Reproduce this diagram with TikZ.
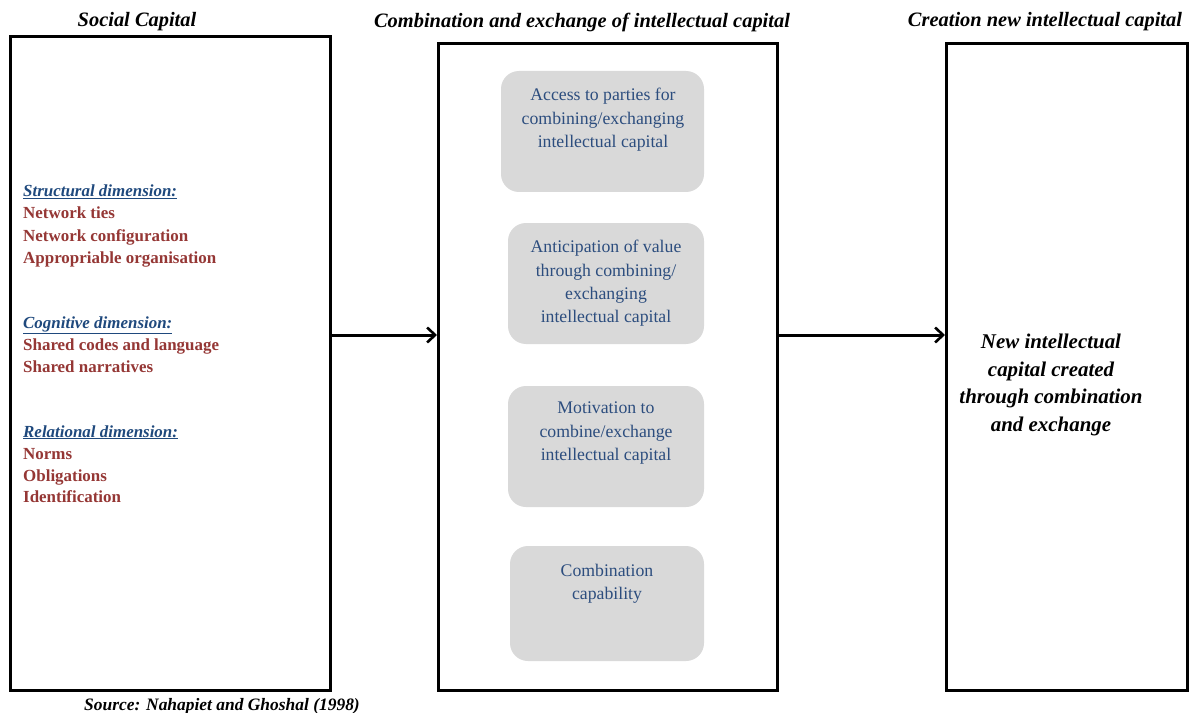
\documentclass[tikz,border=0pt]{standalone}
\usepackage{fontspec}
\setmainfont{Liberation Serif}
\usetikzlibrary{arrows.meta}
\definecolor{itemred}{HTML}{953735}
\definecolor{dimblue}{HTML}{1F497D}
\definecolor{boxblue}{HTML}{2C4D7E}
\definecolor{panelgray}{HTML}{D9D9D9}
\tikzset{
  panel/.style={draw=black, line width=3bp, fill=white},
  stage/.style={fill=panelgray, rounded corners=18bp},
  heading/.style={font=\fontsize{20.5}{24}\selectfont\bfseries\itshape, inner sep=0pt},
  dimhead/.style={anchor=base west, inner sep=0pt, text=dimblue, font=\fontsize{17}{20}\selectfont\bfseries\itshape},
  item/.style={anchor=base west, inner sep=0pt, text=itemred, font=\fontsize{17}{20}\selectfont\bfseries},
  stagetext/.style={anchor=north, inner sep=0pt, text=boxblue, align=center, font=\fontsize{17.8}{23.5}\selectfont},
  flow/.style={line width=3bp, -{Straight Barb[length=8bp, width=15bp, line width=2.6bp]}},
}
\begin{document}
\begin{tikzpicture}[x=1bp, y=-1bp]
\useasboundingbox (0,0) rectangle (1195,713);

% three main panels
\draw[panel] (10,37) rectangle (330,690);
\draw[panel] (438,44) rectangle (777,690);
\draw[panel] (946,44) rectangle (1187,690);
\coordinate (socialE) at (331,335);
\coordinate (comboW) at (437,335);
\coordinate (comboE) at (778,335);
\coordinate (createW) at (945,335);

% panel headings
\node[heading] (h1) at (137,22) {Social Capital};
\node[heading] (h2) at (582,22) {Combination and exchange of intellectual capital};
\node[heading] (h3) at (1045,22) {Creation new intellectual capital};

% social capital dimensions
\node[dimhead] (d1) at (23,197) {\underline{Structural dimension:}};
\node[item] (i11) at (23,219) {Network ties};
\node[item] (i12) at (23,241) {Network configuration};
\node[item] (i13) at (23,263) {Appropriable organisation};
\node[dimhead] (d2) at (23,328) {\underline{Cognitive dimension:}};
\node[item] (i21) at (23,350) {Shared codes and language};
\node[item] (i22) at (23,372) {Shared narratives};
\node[dimhead] (d3) at (23,437) {\underline{Relational dimension:}};
\node[item] (i31) at (23,459) {Norms};
\node[item] (i32) at (23,481) {Obligations};
\node[item] (i33) at (23,502) {Identification};

% combination / exchange stages
\fill[stage] (501,71) rectangle (704,192);
\fill[stage] (508,223) rectangle (704,344);
\fill[stage] (508,386) rectangle (704,507);
\fill[stage] (510,546) rectangle (704,661);
\node[stagetext] (s1) at (603,88) {Access to parties for\\combining/exchanging\\intellectual capital};
\node[stagetext] (s2) at (606,240) {Anticipation of value\\through combining/\\exchanging\\intellectual capital};
\node[stagetext] (s3) at (606,402) {Motivation to\\combine/exchange\\intellectual capital};
\node[stagetext] (s4) at (607,564) {Combination\\capability};

% outcome
\node[inner sep=0pt, align=center, font=\fontsize{21}{27.5}\selectfont\bfseries\itshape] (outcome) at (1051,385)
  {New intellectual\\capital created\\through combination\\and exchange};

% flows between panels
\draw[flow] (socialE) -- (comboW);
\draw[flow] (comboE) -- (createW);

% source note
\node[anchor=base, inner sep=0pt, font=\fontsize{17.5}{20}\selectfont\bfseries\itshape] (src) at (222,710) {Source: Nahapiet and Ghoshal (1998)};
\end{tikzpicture}
\end{document}
